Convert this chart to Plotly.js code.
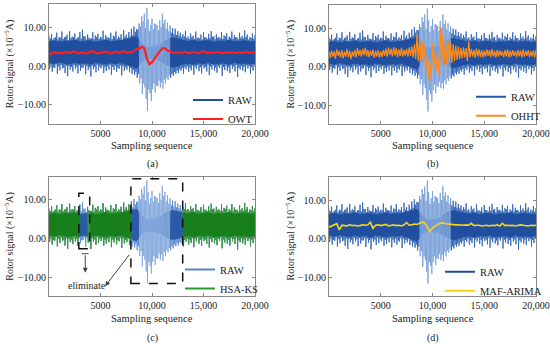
<!DOCTYPE html>
<html><head><meta charset="utf-8">
<script src="https://cdn.plot.ly/plotly-3.0.1.min.js"></script>
<style>html,body{margin:0;padding:0;background:#fff}#chart{width:550px;height:344px}</style>
</head><body><div id="chart"></div>
<script>
// ---- data ----
const STEP = 250;       // sample spacing of the envelope arrays
const CORE_STEP = 500;  // sample spacing of the dense-core arrays
// long spikes (upper / lower) of the RAW signal
const rawHi = [7.8, 8.3, 7.2, 8.6, 7.5, 8.9, 7.4, 8.1, 9.0, 7.6,
 8.4, 7.3, 8.8, 9.4, 7.7, 8.2, 7.1, 8.7, 7.9, 8.3,
 7.5, 9.1, 8.0, 7.4, 8.6, 7.8, 8.9, 7.6, 8.2, 9.3,
 8.1, 8.8, 9.6, 10.2, 9.5, 11.0, 12.8, 13.5, 15.0, 9.0,
 12.3, 11.0, 10.5, 11.8, 13.5, 12.0, 11.2, 10.4, 9.8, 9.6,
 9.0, 8.6, 8.2, 9.1, 7.6, 8.4, 7.8, 8.9, 7.3, 8.1,
 8.7, 7.4, 8.3, 9.0, 7.7, 8.2, 7.5, 8.8, 7.9, 8.5,
 7.6, 8.9, 8.0, 7.4, 8.6, 7.8, 9.2, 8.1, 7.5, 8.4, 7.9];
const rawLo = [-0.8, -1.5, -0.5, -2.0, -1.1, -0.6, -1.8, -2.6, -0.9, -1.4,
 -0.7, -1.9, -1.2, -0.4, -2.1, -1.0, -2.7, -0.8, -1.6, -1.1,
 -0.6, -1.8, -1.3, -0.9, -2.2, -1.0, -1.5, -0.7, -2.4, -1.2,
 -0.9, -1.6, -2.0, -2.3, -3.0, -4.5, -7.2, -5.5, -11.5, -7.0,
 -6.0, -6.8, -5.2, -5.5, -5.8, -4.5, -3.6, -3.0, -2.5, -2.0,
 -1.8, -1.2, -2.0, -0.8, -1.5, -1.1, -2.2, -0.7, -1.3, -1.9,
 -0.6, -1.4, -2.3, -0.9, -1.2, -1.7, -0.5, -2.5, -1.0, -1.3,
 -1.8, -0.7, -1.4, -2.8, -0.9, -1.2, -1.6, -0.6, -2.0, -1.1, -0.8];
// shorter spikes in between
const midHi = [7.1, 6.8, 7.5, 6.9, 7.3, 7.0, 7.6, 6.7, 7.2, 7.4,
 6.9, 7.4, 7.0, 7.7, 6.8, 7.3, 7.1, 6.9, 7.5, 7.0,
 7.3, 6.8, 7.4, 7.1, 6.9, 7.6, 7.0, 7.3, 6.8, 7.5,
 7.2, 7.6, 8.0, 8.8, 9.4, 10.2, 11.5, 9.8, 12.0, 10.5,
 9.5, 10.8, 9.2, 10.0, 11.0, 9.6, 9.0, 8.6, 8.2, 8.0,
 7.8, 7.4, 7.6, 7.2, 7.0, 7.5, 6.9, 7.3, 7.1, 6.8,
 7.4, 7.0, 7.2, 7.5, 6.9, 7.3, 7.1, 7.0, 7.6, 6.8,
 7.2, 7.0, 7.4, 6.9, 7.3, 7.1, 7.5, 6.8, 7.2, 7.0, 7.3];
const midLo = [0.2, -0.3, 0.4, -0.1, 0.3, -0.4, 0.1, 0.0, -0.2, 0.3,
 -0.1, 0.2, -0.4, 0.3, 0.0, -0.3, 0.1, -0.2, 0.4, -0.1,
 0.2, -0.3, 0.0, 0.3, -0.2, 0.1, -0.4, 0.2, 0.0, -0.3,
 0.1, -0.5, -1.0, -1.5, -2.0, -3.2, -4.5, -8.5, -6.0, -9.0,
 -4.5, -5.0, -3.8, -4.2, -3.5, -3.0, -2.4, -2.0, -1.5, -1.2,
 -0.8, -0.5, -0.3, 0.0, -0.4, 0.2, -0.1, 0.3, -0.3, 0.1,
 -0.2, 0.3, -0.1, 0.2, -0.4, 0.0, 0.3, -0.2, 0.1, -0.3,
 0.2, -0.1, 0.3, -0.4, 0.1, -0.2, 0.2, 0.0, -0.3, 0.2, 0.0];
// dense dark core of the RAW signal
const coreHi = [6.3, 6.6, 6.2, 6.5, 6.4, 6.7, 6.3, 6.5, 6.6, 6.2, 6.4, 6.8, 6.3, 6.5, 6.6, 6.9, 7.3, 7.6, 6.0, 4.8,
 5.0, 5.2, 6.0, 7.0, 7.3, 7.0, 6.6, 6.4, 6.7, 6.3, 6.5, 6.6, 6.2, 6.5, 6.4, 6.7, 6.3, 6.5, 6.6, 6.3, 6.4];
const coreLo = [0.9, 0.6, 1.0, 0.7, 0.5, 0.9, 0.6, 0.8, 0.4, 0.9, 0.7, 0.5, 0.8, 0.6, 0.9, 0.4, 0.0, -0.6, 1.2, 2.0,
 1.8, 1.6, 1.0, 0.2, -0.3, 0.0, 0.5, 0.7, 0.4, 0.8, 0.6, 0.9, 0.5, 0.7, 0.8, 0.4, 0.9, 0.6, 0.7, 0.5, 0.8];
const owt = [3.0, 3.2, 3.5, 3.3, 3.6, 3.2, 3.4, 3.7, 3.3, 3.5,
 3.8, 3.4, 3.3, 3.6, 3.4, 3.2, 3.7, 3.9, 3.5, 3.3,
 3.4, 3.6, 3.8, 3.5, 3.3, 3.5, 3.7, 3.4, 3.6, 3.8,
 3.5, 3.4, 3.6, 3.9, 4.5, 4.4, 5.0, 4.6, 2.0, 0.5,
 1.0, 2.0, 3.0, 3.8, 4.6, 4.6, 4.0, 3.7, 3.5, 3.4,
 3.6, 3.3, 3.5, 3.7, 3.2, 3.4, 3.6, 3.5, 3.3, 3.6,
 3.8, 3.5, 3.3, 3.6, 3.4, 3.5, 3.7, 3.3, 3.5, 3.6,
 3.4, 3.6, 3.5, 3.3, 3.6, 3.4, 3.5, 3.7, 3.4, 3.5, 3.6];
const ohhtHi = [3.8, 4.2, 4.0, 4.5, 4.1, 4.3, 3.9, 4.6, 4.2, 4.0,
 4.4, 4.8, 4.3, 4.6, 4.9, 4.4, 4.2, 4.5, 4.1, 4.3,
 4.0, 4.4, 4.7, 5.0, 4.6, 5.1, 4.8, 4.5, 4.9, 4.4,
 4.6, 5.0, 5.3, 5.8, 8.3, 7.6, 6.5, 5.5, 3.0, 1.5,
 6.0, 4.0, 3.5, 10.4, 8.5, 7.0, 6.8, 6.2, 5.8, 5.5,
 5.2, 4.9, 5.0, 4.8, 6.5, 4.6, 4.4, 4.7, 4.5, 4.3,
 4.2, 4.5, 4.3, 4.6, 4.1, 4.4, 4.2, 4.0, 4.3, 4.5,
 4.1, 4.3, 4.0, 4.4, 4.2, 4.5, 4.1, 4.3, 4.0, 4.2, 4.4];
const ohhtLo = [2.3, 2.6, 2.1, 2.8, 2.4, 2.2, 2.7, 2.5, 2.0, 2.6,
 2.4, 2.9, 2.6, 3.0, 2.7, 2.5, 2.8, 2.3, 2.6, 2.4,
 2.5, 2.8, 2.6, 3.0, 2.7, 2.9, 2.5, 2.8, 2.6, 2.9,
 2.6, 2.8, 2.4, 2.0, 1.5, 2.0, 0.5, -1.0, -3.5, -3.0,
 0.5, -1.0, -2.2, 0.0, 1.0, 0.5, 1.2, 1.0, 1.5, 1.8,
 2.0, 2.2, 2.4, 1.5, 2.5, 2.6, 2.3, 2.7, 2.5, 2.4,
 2.6, 2.8, 2.5, 2.7, 2.4, 2.6, 2.9, 2.5, 2.7, 2.4,
 2.6, 2.8, 2.5, 2.7, 2.4, 2.6, 2.8, 2.5, 2.7, 2.4, 2.6];
const mafArima = [3.0, 3.3, 3.8, 3.9, 2.3, 3.5, 3.4, 3.3, 3.6, 3.4,
 3.5, 3.3, 3.4, 3.6, 3.5, 3.6, 4.3, 2.7, 3.5, 3.6,
 3.4, 3.5, 3.7, 3.3, 3.5, 3.6, 3.4, 3.5, 3.3, 3.6,
 4.2, 3.5, 3.6, 3.8, 3.7, 4.0, 4.3, 4.1, 3.0, 1.9,
 2.8, 3.3, 3.7, 4.0, 4.1, 3.9, 3.8, 3.7, 3.6, 3.6,
 3.6, 3.5, 3.5, 3.6, 3.5, 4.0, 3.4, 3.5, 3.5, 3.3,
 3.4, 3.5, 3.3, 3.5, 3.4, 3.6, 3.3, 4.0, 3.4, 3.5,
 3.4, 3.5, 3.3, 3.4, 3.6, 3.5, 3.4, 3.3, 3.5, 3.4, 3.5];
const burstStart = 8750, burstEnd = 11750;   // light, sparse burst region of RAW
const coreGapStart = 9000, coreGapEnd = 11000;
const elimStart = [3000, 8000];
const elimEnd = [3750, 13000];
const xTickVals = [5000, 10000, 15000, 20000];
const xTickText = ['5000', '10,000', '15,000', '20,000'];
const yTickVals = [-10, 0, 10];
const panelLabels = ['(a)', '(b)', '(c)', '(d)'];
const methodNames = ['OWT', 'OHHT', 'HSA-KS', 'MAF-ARIMA'];

// ---- helpers ----
function inElim(x) {
  for (let j = 0; j < elimStart.length; j++) if (x > elimStart[j] && x < elimEnd[j]) return true;
  return false;
}
function spikes(keep) {
  const x = [], y = [];
  const put = (xx, v) => { x.push(xx); y.push(keep(xx) ? v : null); };
  for (let i = 0; i < rawHi.length; i++) {
    const x0 = i * STEP;
    put(x0, rawHi[i]); put(x0 + STEP / 4, rawLo[i]);
    put(x0 + STEP / 2, midHi[i]); put(x0 + 3 * STEP / 4, midLo[i]);
  }
  return {x, y};
}
function zigzag(hi, lo, step) {
  const x = [], y = [];
  for (let i = 0; i < hi.length; i++) { x.push(i * step, i * step + step / 2); y.push(hi[i], lo[i]); }
  return {x, y};
}
function band(hi, lo, step, keep) {
  const segs = []; let cur = [];
  for (let i = 0; i < hi.length; i++) {
    if (keep(i * step)) cur.push(i); else { if (cur.length) segs.push(cur); cur = []; }
  }
  if (cur.length) segs.push(cur);
  const x = [], y = [];
  segs.forEach((s, k) => {
    if (k) { x.push(null); y.push(null); }
    s.forEach(i => { x.push(i * step); y.push(hi[i]); });
    s.slice().reverse().forEach(i => { x.push(i * step); y.push(lo[i]); });
  });
  return {x, y};
}
const series = (vals, step) => ({x: vals.map((_, i) => i * step), y: vals});

const FONT = '"Liberation Serif", "Times New Roman", Times, serif';
const traces = [];
function ax(k) { return k === 1 ? ['x', 'y'] : ['x' + k, 'y' + k]; }
function addRaw(k, c, keep) {
  keep = keep || (() => true);
  const [xa, ya] = ax(k);
  const outer = spikes(x => keep(x) && (x <= burstStart || x >= burstEnd));
  traces.push({x: outer.x, y: outer.y, xaxis: xa, yaxis: ya, mode: 'lines', showlegend: false,
    line: {color: c.spike, width: 0.9}, hoverinfo: 'skip'});
  const b = band(coreHi, coreLo, CORE_STEP, x => keep(x) && (x <= coreGapStart || x >= coreGapEnd));
  traces.push({x: b.x, y: b.y, xaxis: xa, yaxis: ya, mode: 'lines', fill: 'toself', fillcolor: c.core,
    showlegend: false, line: {color: c.core, width: 0.6}, hoverinfo: 'skip'});
  const bm = band(coreHi, coreLo, CORE_STEP, x => keep(x) && x >= coreGapStart && x <= coreGapEnd);
  if (bm.x.length) traces.push({x: bm.x, y: bm.y, xaxis: xa, yaxis: ya, mode: 'lines', fill: 'toself',
    fillcolor: c.mid, showlegend: false, line: {color: c.mid, width: 0.6}, hoverinfo: 'skip'});
  const burst = spikes(x => keep(x) && x >= burstStart && x <= burstEnd);
  traces.push({x: burst.x, y: burst.y, xaxis: xa, yaxis: ya, mode: 'lines', showlegend: false,
    line: {color: c.light, width: 0.9}, hoverinfo: 'skip'});
}
function legendEntry(k, name, color) {
  const [xa, ya] = ax(k);
  traces.push({x: [null], y: [null], xaxis: xa, yaxis: ya, mode: 'lines', name: name,
    legend: k === 1 ? 'legend' : 'legend' + k, line: {color: color, width: 2}, showlegend: true});
}
const blue = {spike: '#3466b6', core: '#1f4f9e', mid: '#4a78c0', light: '#7ca2d9'};

// (a) RAW + OWT
addRaw(1, blue);
traces.push(Object.assign(series(owt, STEP), {xaxis: 'x', yaxis: 'y', mode: 'lines', showlegend: false,
  line: {color: '#ff1f1f', width: 2.2}}));
legendEntry(1, 'RAW', '#1f4f9f'); legendEntry(1, methodNames[0], '#ff2020');

// (b) RAW + OHHT
addRaw(2, blue);
const zo = zigzag(ohhtHi, ohhtLo, STEP);
traces.push({x: zo.x, y: zo.y, xaxis: 'x2', yaxis: 'y2', mode: 'lines', showlegend: false,
  line: {color: '#ff8c1a', width: 1.2}});
legendEntry(2, 'RAW', '#2458a8'); legendEntry(2, methodNames[1], '#ff8c1a');

// (c) RAW (visible where eliminated) + HSA-KS
addRaw(3, {spike: '#5e8ccf', core: '#2a5aa8', mid: '#5582c6', light: '#86a9dc'});
addRaw(3, {spike: '#3a983a', core: '#17801c', mid: '#17801c', light: '#3a983a'}, x => !inElim(x));
legendEntry(3, 'RAW', '#5a84c4'); legendEntry(3, methodNames[2], '#2a9a2a');

// (d) RAW + MAF-ARIMA
addRaw(4, blue);
traces.push(Object.assign(series(mafArima, STEP), {xaxis: 'x4', yaxis: 'y4', mode: 'lines', showlegend: false,
  line: {color: '#f5d41c', width: 1.6}}));
legendEntry(4, 'RAW', '#1f4a96'); legendEntry(4, methodNames[3], '#f5d41c');

// ---- layout ----
const W = 550, H = 344;
const px2x = p => p / W, px2y = p => 1 - p / H;
const xDom = [[49, 255], [329, 536], [49, 255], [329, 536]];
const yDom = [[4, 123.5], [4.7, 124.3], [176.5, 296], [176.7, 296.3]];
const layout = {width: W, height: H, margin: {l: 0, r: 0, t: 0, b: 0},
  paper_bgcolor: '#fff', plot_bgcolor: '#fff', font: {family: FONT, size: 10, color: '#222'},
  annotations: [], shapes: []};
const tickStyle = {ticks: 'inside', ticklen: 3, tickcolor: '#888', showline: true, linecolor: '#888',
  linewidth: 1, mirror: 'ticks', showgrid: false, zeroline: false,
  tickfont: {family: FONT, size: 10, color: '#222'}};
const legX = [188, 471, 180, 440];
const legDrop = [10, 6, 7, 9];
for (let k = 1; k <= 4; k++) {
  const xd = xDom[k - 1], yd = yDom[k - 1];
  const xn = k === 1 ? 'xaxis' : 'xaxis' + k, yn = k === 1 ? 'yaxis' : 'yaxis' + k;
  layout[xn] = Object.assign({domain: [px2x(xd[0]), px2x(xd[1])], range: [0, 20000],
    tickvals: xTickVals, ticktext: xTickText, anchor: ax(k)[1]}, tickStyle);
  layout[yn] = Object.assign({domain: [px2y(yd[1]), px2y(yd[0])], range: [-14.8, 16],
    tickvals: yTickVals, tickformat: '.2f', anchor: ax(k)[0]}, tickStyle);
  const ln = k === 1 ? 'legend' : 'legend' + k;
  layout[ln] = {x: px2x(legX[k - 1]), xanchor: 'left', y: px2y(yd[1] + legDrop[k - 1]), yanchor: 'bottom',
    bgcolor: 'rgba(0,0,0,0)', borderwidth: 0, font: {family: FONT, size: 10.5, color: '#222'},
    tracegroupgap: 0};
  const cx = (xd[0] + xd[1]) / 2;
  const titleY = k <= 2 ? 145.7 : 318;
  const letterY = k <= 2 ? 164 : 337.5;
  layout.annotations.push({xref: 'paper', yref: 'paper', x: px2x(cx), y: px2y(titleY), text: 'Sampling sequence',
    showarrow: false, xanchor: 'center', yanchor: 'middle', font: {family: FONT, size: 10.5, color: '#222'}});
  layout.annotations.push({xref: 'paper', yref: 'paper', x: px2x(cx), y: px2y(letterY), text: panelLabels[k - 1],
    showarrow: false, xanchor: 'center', yanchor: 'middle', font: {family: FONT, size: 10, color: '#222'}});
  layout.annotations.push({xref: 'paper', yref: 'paper', x: px2x(k % 2 ? 9.5 : 290), y: px2y((yd[0] + yd[1]) / 2),
    text: 'Rotor signal (×10<sup>−5</sup>A)', textangle: -90, showarrow: false, xanchor: 'center', yanchor: 'middle',
    font: {family: FONT, size: 10, color: '#222'}});
}
// (c) annotation marks: dashed boxes, arrows, label
const dash = {color: '#111', width: 1.5, dash: 'dash'};
layout.shapes.push({type: 'rect', xref: 'x3', yref: 'y3', x0: 2900, x1: 3950, y0: -2.6, y1: 11.7, line: dash});
layout.shapes.push({type: 'rect', xref: 'x3', yref: 'y3', x0: 7950, x1: 12980, y0: -11.6, y1: 15.4, line: dash});
layout.shapes.push({type: 'line', xref: 'x3', yref: 'y3', x0: 3200, x1: 3850, y0: -3.9, y1: -3.9,
  line: {color: '#444', width: 1}});
layout.annotations.push({xref: 'x3', yref: 'y3', axref: 'x3', ayref: 'y3', x: 3520, y: -8.8, ax: 3520, ay: -3.9,
  text: '', showarrow: true, arrowhead: 2, arrowsize: 1, arrowwidth: 1, arrowcolor: '#444', standoff: 0});
layout.annotations.push({xref: 'x3', yref: 'y3', axref: 'x3', ayref: 'y3', x: 5450, y: -12.3, ax: 7900, ay: -3.8,
  text: '', showarrow: true, arrowhead: 2, arrowsize: 1, arrowwidth: 1, arrowcolor: '#444', standoff: 0});
layout.annotations.push({xref: 'x3', yref: 'y3', x: 3650, y: -12.1, text: 'eliminate', showarrow: false,
  xanchor: 'center', yanchor: 'middle', font: {family: FONT, size: 10, color: '#222'}});

Plotly.newPlot('chart', traces, layout, {displayModeBar: false, staticPlot: true});
</script></body></html>
